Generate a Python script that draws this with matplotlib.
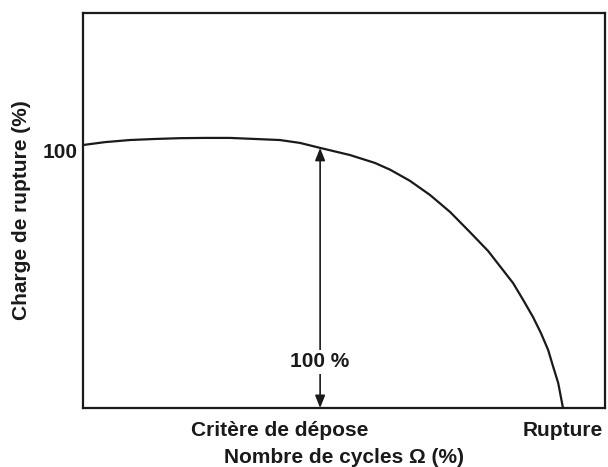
import matplotlib
matplotlib.use("Agg")
import matplotlib.pyplot as plt
from matplotlib.transforms import ScaledTranslation

plt.rcParams['font.family'] = ['Liberation Sans', 'DejaVu Sans']
plt.rcParams['font.weight'] = 'bold'

# Curve (x: % of cycles to rupture, y: breaking load %)
cycles = [0, 4.58, 9.79, 15.0, 20.2, 25.4, 30.6, 35.8, 41.0, 45.2, 49.4, 55.6, 60.8,
          64.0, 68.1, 72.3, 76.5, 80.6, 84.4, 89.6, 91.7, 93.75, 95.4, 96.9, 97.9, 99.0, 100]
load = [100, 101.1, 101.9, 102.3, 102.6, 102.7, 102.7, 102.3, 101.9, 100.8, 98.9, 96.2, 93.2,
        90.6, 86.4, 81.0, 74.5, 66.9, 59.7, 47.5, 41.1, 34.6, 28.5, 22.1, 16.0, 9.5, 0]

arrow_x = 49.4
arrow_top = 98.9
arrow_label = "100 %"
arrow_label_y = 17.5

xtick_pos = [41.0, 100]
xtick_labels = ["Critère de dépose", "Rupture"]
ytick_pos = [100]
ytick_labels = ["100"]

FS = 15
INK = '#1a1a1a'

fig = plt.figure(figsize=(6.08, 4.67), dpi=100)
ax = fig.add_axes([83/608, 1-408/467, (605-83)/608, (408-13)/467])

ax.plot(cycles, load, color=INK, lw=1.6, solid_capstyle='round', solid_joinstyle='round')

ax.annotate('', xy=(arrow_x, arrow_top), xytext=(arrow_x, 0),
            arrowprops=dict(arrowstyle='<|-|>,head_length=0.75,head_width=0.3',
                            color=INK, lw=1.2, shrinkA=0, shrinkB=0))
ax.text(arrow_x, arrow_label_y, arrow_label, ha='center', va='center', fontsize=FS,
        fontweight='bold', color=INK,
        bbox=dict(facecolor='white', edgecolor='none', pad=2))

ax.set_xlim(0, 108.75)
ax.set_ylim(0, 150.2)
ax.set_xticks(xtick_pos)
ax.set_xticklabels(xtick_labels, fontsize=FS, fontweight='bold', color=INK)
ax.set_yticks(ytick_pos)
ax.set_yticklabels(ytick_labels, fontsize=FS, fontweight='bold', color=INK)
ax.tick_params(axis='both', length=0)
ax.tick_params(axis='x', pad=9)
ax.tick_params(axis='y', pad=4)
for lab in ax.get_yticklabels():
    lab.set_transform(lab.get_transform() + ScaledTranslation(0, -5/100, fig.dpi_scale_trans))

ax.set_xlabel("Nombre de cycles Ω (%)", fontsize=FS, fontweight='bold', color=INK, labelpad=6)
ax.set_ylabel("Charge de rupture (%)", fontsize=FS, fontweight='bold', color=INK, labelpad=8)

for s in ax.spines.values():
    s.set_linewidth(1.6)
    s.set_color(INK)

fig.savefig('out.png', dpi=100)
